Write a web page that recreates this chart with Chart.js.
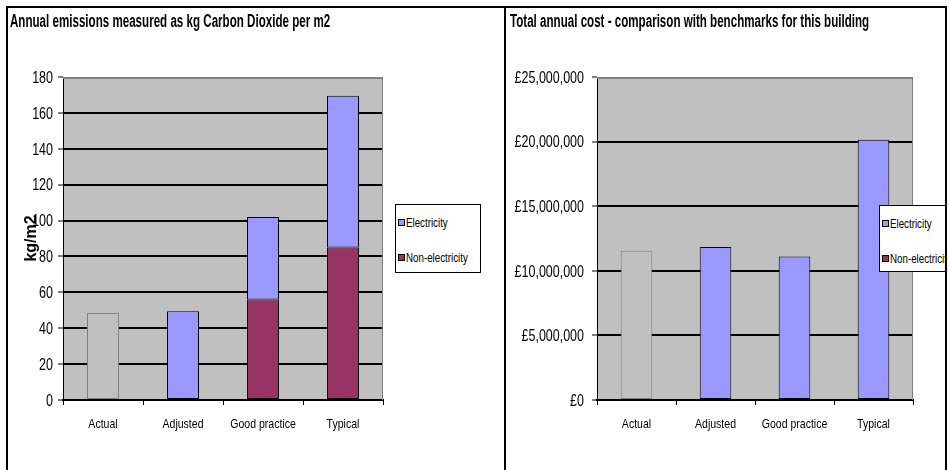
<!DOCTYPE html>
<html>
<head>
<meta charset="utf-8">
<script src="https://cdn.jsdelivr.net/npm/chart.js@4.4.0/dist/chart.umd.min.js"></script>
<style>
  body { margin: 0; background: #fff; width: 949px; height: 470px; overflow: hidden; position: relative;
         font-family: 'Liberation Sans', Arial, sans-serif; }
  .frame { position: absolute; left: 6px; top: 6px; width: 937px; height: 470px; border: 2px solid #000; border-bottom: none; pointer-events: none; z-index: 5; }
  .divider { position: absolute; left: 504px; top: 6px; width: 2px; height: 470px; background: #000; z-index: 5; }
  .panel { position: absolute; top: 0; height: 470px; overflow: hidden; }
  .title { position: absolute; top: 12px; font-size: 18px; line-height: 18px; font-weight: bold; color: #000; white-space: nowrap;
           transform-origin: left top; transform: scaleX(0.644); }
  .legend { position: absolute; border: 1px solid #000; background: #fff; font-size: 12.5px; line-height: 12px; }
  .legend .item { position: absolute; left: 2px; white-space: nowrap; color: #000; }
  .legend .sw { display: inline-block; width: 5px; height: 5px; border: 1px solid #000; margin-right: 1px; vertical-align: 1px; }
  .legend .txt { display: inline-block; transform: scaleX(0.78); transform-origin: left center; }
</style>
</head>
<body>
<div class="panel" style="left:0;width:504px">
  <canvas id="co2Chart" width="504" height="470"></canvas>
  <div class="title" style="left:10px">Annual emissions measured as kg Carbon Dioxide per m2</div>
  <div class="legend" id="co2Legend" style="left:395px;top:204px;width:84px;height:67px"></div>
</div>
<div class="panel" style="left:506px;width:439px">
  <canvas id="costChart" width="439" height="470"></canvas>
  <div class="title" style="left:4px">Total annual cost - comparison with benchmarks for this building</div>
  <div class="legend" id="costLegend" style="left:373px;top:205px;width:90px;height:65px"></div>
</div>
<div class="frame"></div>
<div class="divider"></div>
<script>
const categories = ['Actual', 'Adjusted', 'Good practice', 'Typical'];
const seriesNames = ['Electricity', 'Non-electricity'];

// kg CO2 per m2, stacked
const co2Actual = [48.5, null, null, null];
const co2NonElectricity = [null, null, 56, 85];
const co2Electricity = [null, 49.5, 46, 84.5];
const co2Ticks = { min: 0, max: 180, step: 20 };

// total annual cost, pounds
const costActual = [11550000, null, null, null];
const costElectricity = [null, 11850000, 11100000, 20150000];
const costTicks = { min: 0, max: 25000000, step: 5000000 };

const palette = {
  plot: '#c0c0c0',
  frame: '#808080',
  actual: '#c0c0c0',
  electricity: '#9999ff',
  nonElectricity: '#993366'
};
const swatches = [palette.electricity, palette.nonElectricity];

const labelFont = "'Liberation Sans', Arial, sans-serif";
const NARROW = 0.78; // horizontal squeeze for the condensed axis lettering

// grey plot background + grey frame on the top/right edges
const plotFrame = {
  id: 'plotFrame',
  beforeDraw(chart) {
    const { ctx, chartArea: a } = chart;
    ctx.save();
    ctx.fillStyle = palette.plot;
    ctx.fillRect(a.left, a.top, a.right - a.left, a.bottom - a.top);
    ctx.restore();
  },
  beforeDatasetsDraw(chart) {
    const { ctx, chartArea: a } = chart;
    ctx.save();
    ctx.strokeStyle = palette.frame;
    ctx.lineWidth = 2;
    ctx.beginPath();
    ctx.moveTo(a.left, a.top + 1);
    ctx.lineTo(a.right, a.top + 1);
    ctx.stroke();
    ctx.lineWidth = 1;
    ctx.beginPath();
    ctx.moveTo(a.right - 0.5, a.top);
    ctx.lineTo(a.right - 0.5, a.bottom);
    ctx.stroke();
    ctx.restore();
  }
};

function narrowText(ctx, text, x, y, align, size) {
  ctx.save();
  ctx.font = size + 'px ' + labelFont;
  ctx.fillStyle = '#000';
  ctx.textAlign = align;
  ctx.textBaseline = 'alphabetic';
  ctx.translate(x, y);
  ctx.scale(NARROW, 1);
  ctx.fillText(text, 0, 0);
  ctx.restore();
}

// tick labels drawn condensed, positioned from the scales' own ticks
const narrowTicks = {
  id: 'narrowTicks',
  afterDraw(chart, args, opts) {
    const { ctx, chartArea: a, scales } = chart;
    scales.y.ticks.forEach((t, i) => {
      narrowText(ctx, String(t.label), a.left - opts.yGap, scales.y.getPixelForTick(i) + 5.8, 'right', 16);
    });
    scales.x.ticks.forEach((t, i) => {
      narrowText(ctx, String(t.label), scales.x.getPixelForTick(i), a.bottom + 28, 'center', 13.5);
    });
  }
};

function bar(label, data, color, border) {
  return {
    label, data,
    backgroundColor: color,
    borderColor: border,
    borderWidth: 1,
    borderSkipped: false,
    barPercentage: 0.4,
    categoryPercentage: 1.0
  };
}

function valueAxis(t, width, format, title) {
  return {
    stacked: true,
    min: t.min,
    max: t.max,
    afterFit: (s) => { s.width = width; },
    ticks: { display: false, stepSize: t.step, callback: format },
    grid: {
      color: (c) => (c.tick && c.tick.value === t.max ? 'rgba(0,0,0,0)' : '#000'),
      lineWidth: 2,
      tickLength: 5,
      tickColor: '#000',
      tickWidth: 1
    },
    border: { color: '#000', width: 1 },
    title: title || { display: false }
  };
}

function categoryAxis() {
  return {
    stacked: true,
    afterFit: (s) => { s.height = 70; },
    grid: { offset: true, drawOnChartArea: false, tickLength: 5, color: '#000' },
    border: { color: '#000', width: 2 },
    ticks: { display: false, autoSkip: false }
  };
}

function baseOptions(padding, yGap, scales) {
  return {
    responsive: false,
    animation: false,
    layout: { padding },
    plugins: { legend: { display: false }, tooltip: { enabled: false }, narrowTicks: { yGap } },
    scales
  };
}

new Chart(document.getElementById('co2Chart'), {
  type: 'bar',
  data: {
    labels: categories,
    datasets: [
      bar('Actual', co2Actual, palette.actual, palette.frame),
      bar(seriesNames[1], co2NonElectricity, palette.nonElectricity, '#000'),
      bar(seriesNames[0], co2Electricity, palette.electricity, '#000')
    ]
  },
  options: baseOptions({ left: 0, right: 121, top: 77, bottom: 0 }, 10, {
    x: categoryAxis(),
    y: valueAxis(co2Ticks, 63, (v) => v, {
      display: true,
      text: 'kg/m2',
      color: '#000',
      font: { family: labelFont, size: 16, weight: 'bold' },
      padding: { top: 22, bottom: 0 }
    })
  }),
  plugins: [plotFrame, narrowTicks]
});

new Chart(document.getElementById('costChart'), {
  type: 'bar',
  data: {
    labels: categories,
    datasets: [
      bar('Actual', costActual, palette.actual, palette.frame),
      bar(seriesNames[0], costElectricity, palette.electricity, '#000')
    ]
  },
  options: baseOptions({ left: 0, right: 32, top: 77, bottom: 0 }, 13, {
    x: categoryAxis(),
    y: valueAxis(costTicks, 91, (v) => '£' + Number(v).toLocaleString('en-GB'))
  }),
  plugins: [plotFrame, narrowTicks]
});

// legend boxes
function buildLegend(id) {
  const box = document.getElementById(id);
  seriesNames.forEach((name, i) => {
    const item = document.createElement('div');
    item.className = 'item';
    item.style.top = (12 + i * 35) + 'px';
    const sw = document.createElement('span');
    sw.className = 'sw';
    sw.style.background = swatches[i];
    const txt = document.createElement('span');
    txt.className = 'txt';
    txt.textContent = name;
    item.appendChild(sw);
    item.appendChild(txt);
    box.appendChild(item);
  });
}
buildLegend('co2Legend');
buildLegend('costLegend');
</script>
</body>
</html>
